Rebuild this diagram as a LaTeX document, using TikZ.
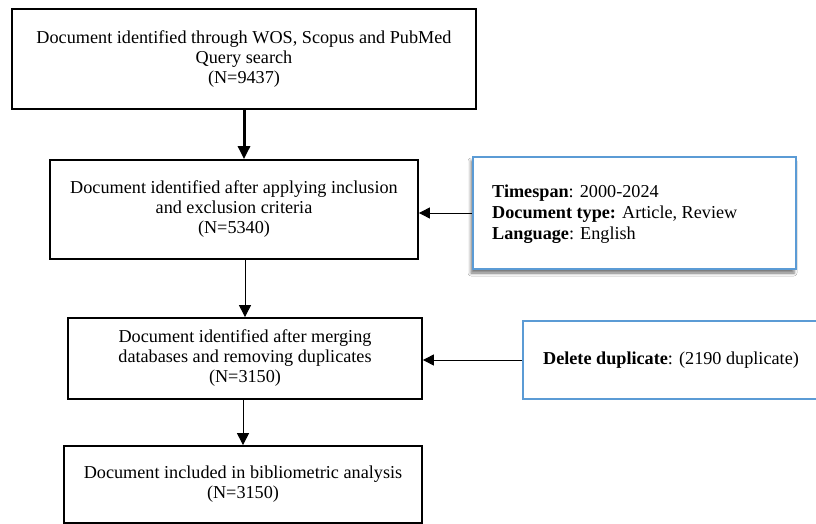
\documentclass[tikz,border=0pt]{standalone}
\usepackage{fontspec}
\setmainfont{Liberation Serif}
\usetikzlibrary{arrows.meta,shadows.blur}
\definecolor{bluebrd}{HTML}{5B9BD5}
\tikzset{
  flowbox/.style={draw=black, line width=1.8pt, fill=white, inner sep=0pt, align=center,
    font=\fontsize{18.2}{20}\selectfont},
  notebox/.style={draw=bluebrd, line width=1.6pt, fill=white, inner sep=0pt,
    font=\fontsize{18.2}{21}\selectfont},
  thickarrow/.style={line width=3pt, -{Triangle[length=13pt,width=12pt]}},
  thinarrow/.style={line width=1pt, -{Triangle[length=12pt,width=12pt]}},
  sidearrow/.style={line width=1pt, -{Triangle[length=11pt,width=11pt]}}
}
\begin{document}
\begin{tikzpicture}[x=1pt,y=-1pt]
\useasboundingbox (0,0) rectangle (816,524);
\fill[white] (0,0) rectangle (816,524);

\node[flowbox, minimum width=464pt, minimum height=100pt] (b1) at (244,59)
  {Document identified through WOS, Scopus and PubMed\\Query search\\(N=9437)};
\node[flowbox, minimum width=368pt, minimum height=99pt] (b2) at (234,209.5)
  {Document identified after applying inclusion\\and exclusion criteria\\(N=5340)};
\node[flowbox, minimum width=354pt, minimum height=81pt] (b3) at (245,358.5)
  {Document identified after merging\\databases and removing duplicates\\(N=3150)};
\node[flowbox, minimum width=358pt, minimum height=77pt] (b4) at (243,484.5)
  {Document included in bibliometric analysis\\(N=3150)};

\node[notebox, minimum width=323pt, minimum height=112pt,
  blur shadow={shadow xshift=-2pt, shadow yshift=-4pt, shadow blur radius=3pt, shadow opacity=55}]
  (n1) at (634.5,213) {};
\node[align=left, anchor=west, inner sep=0pt, font=\fontsize{18.2}{21}\selectfont] (n1t) at (492,214)
  {\textbf{Timespan}: 2000-2024\\\textbf{Document type:} Article, Review\\\textbf{Language}: English};

\node[notebox, minimum width=296pt, minimum height=78pt] (n2) at (671,360)
  {\textbf{Delete duplicate}: (2190 duplicate)};

\draw[thickarrow] (b1.south) -- (b1.south |- b2.north);
\draw[thinarrow] (b3.north |- b2.south) -- (b3.north);
\draw[thinarrow] (b3.south -| b4.north) -- (b4.north);
\draw[sidearrow] (n1.west) -- (n1.west -| b2.east);
\draw[sidearrow] (n2.west) -- (n2.west -| b3.east);
\end{tikzpicture}
\end{document}
